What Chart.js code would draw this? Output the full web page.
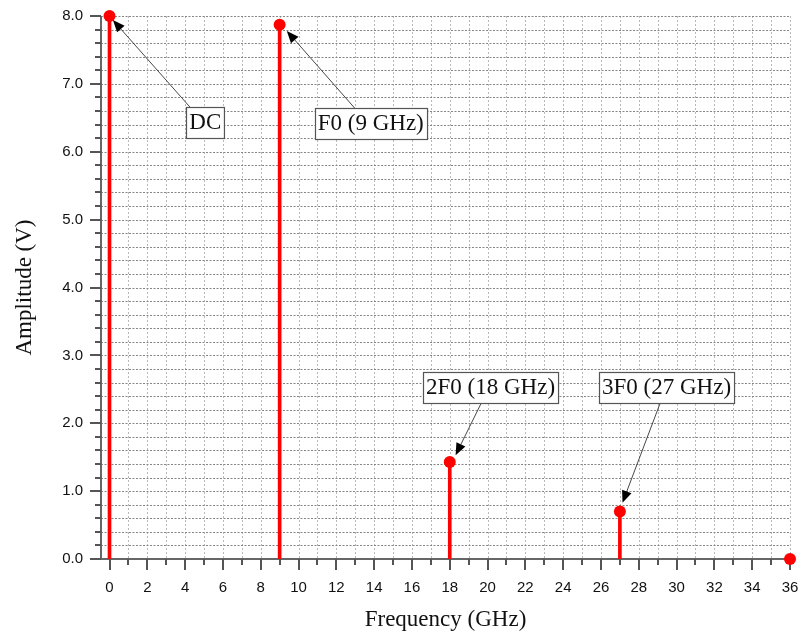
<!DOCTYPE html>
<html>
<head>
<meta charset="utf-8">
<script src="https://cdn.jsdelivr.net/npm/chart.js@4.4.0/dist/chart.umd.min.js"></script>
<style>
  html, body { margin: 0; padding: 0; background: #ffffff; }
  #wrap { width: 800px; height: 637px; }
</style>
</head>
<body>
<div id="wrap"><canvas id="c" width="800" height="637"></canvas></div>
<script>
// ---- data ----
const frequencies = [0, 9, 18, 27, 36];            // GHz
const amplitudes  = [8.0, 7.87, 1.43, 0.70, 0.0];  // V
const annotationTexts = ['DC', 'F0 (9 GHz)', '2F0 (18 GHz)', '3F0 (27 GHz)'];

// ---- annotation layout (data units) ----
const annLayout = [
  { cx: 5.07,  cy: 6.43, tx: 4.25,  ty: 6.66, hx: 0.18,  hy: 7.94 },
  { cx: 13.82, cy: 6.42, tx: 12.98, ty: 6.64, hx: 9.38,  hy: 7.78 },
  { cx: 20.16, cy: 2.53, tx: 19.69, ty: 2.31, hx: 18.31, hy: 1.53 },
  { cx: 29.47, cy: 2.53, tx: 29.15, ty: 2.31, hx: 27.14, hy: 0.83 }
];

const RED = '#ff0000';
const serif = '"Liberation Serif", "DejaVu Serif", serif';
const sans = '"Liberation Sans", Arial, sans-serif';

const isInt = v => Math.abs(v - Math.round(v)) < 1e-6;

const gridPlugin = {
  id: 'gridPlugin',
  beforeDatasetsDraw(chart) {
    const ctx = chart.ctx;
    const xs = chart.scales.x, ys = chart.scales.y;
    const a = chart.chartArea;
    ctx.save();
    ctx.lineWidth = 1;
    // vertical grid (every 1 GHz)
    ctx.strokeStyle = '#b8b8b8';
    ctx.setLineDash([2, 2]);
    xs.ticks.forEach(t => {
      if (t.value <= 0) return;
      const px = Math.round(xs.getPixelForValue(t.value)) + 0.5;
      ctx.beginPath(); ctx.moveTo(px, a.top); ctx.lineTo(px, a.bottom); ctx.stroke();
    });
    // horizontal grid (every 0.2 V)
    ctx.strokeStyle = '#858585';
    ctx.setLineDash([2, 1.5]);
    ys.ticks.forEach(t => {
      if (t.value <= 1e-6) return;
      const py = Math.round(ys.getPixelForValue(t.value)) + 0.5;
      ctx.beginPath(); ctx.moveTo(a.left, py); ctx.lineTo(a.right, py); ctx.stroke();
    });
    ctx.setLineDash([]);
    // axis lines
    ctx.strokeStyle = '#666666';
    ctx.lineWidth = 2;
    ctx.beginPath(); ctx.moveTo(a.left, a.top); ctx.lineTo(a.left, a.bottom + 1); ctx.stroke();
    ctx.beginPath(); ctx.moveTo(a.left - 1, a.bottom); ctx.lineTo(a.right, a.bottom); ctx.stroke();
    // tick marks
    ctx.strokeStyle = '#555555';
    ctx.lineWidth = 2;
    xs.ticks.forEach(t => {
      if (t.value < 0) return;
      const px = Math.round(xs.getPixelForValue(t.value));
      const len = (Math.round(t.value) % 2 === 0) ? 11 : 6;
      ctx.beginPath(); ctx.moveTo(px, a.bottom); ctx.lineTo(px, a.bottom + len); ctx.stroke();
    });
    ys.ticks.forEach(t => {
      const py = Math.round(ys.getPixelForValue(t.value));
      const len = isInt(t.value) ? 11 : 6;
      ctx.beginPath(); ctx.moveTo(a.left, py); ctx.lineTo(a.left - len, py); ctx.stroke();
    });
    ctx.restore();
  }
};

const annotationPlugin = {
  id: 'annotationPlugin',
  afterDatasetsDraw(chart) {
    const ctx = chart.ctx;
    const xs = chart.scales.x, ys = chart.scales.y;
    ctx.save();
    ctx.font = '23px ' + serif;
    annotationTexts.forEach((txt, i) => {
      const L = annLayout[i];
      const cx = xs.getPixelForValue(L.cx), cy = ys.getPixelForValue(L.cy);
      const tx = xs.getPixelForValue(L.tx), ty = ys.getPixelForValue(L.ty);
      const hx = xs.getPixelForValue(L.hx), hy = ys.getPixelForValue(L.hy);
      // arrow line
      const ang = Math.atan2(hy - ty, hx - tx);
      const headLen = 12, headW = 5;
      const bx = hx - headLen * Math.cos(ang), by = hy - headLen * Math.sin(ang);
      ctx.strokeStyle = '#333333';
      ctx.lineWidth = 0.9;
      ctx.beginPath(); ctx.moveTo(tx, ty); ctx.lineTo(bx, by); ctx.stroke();
      ctx.fillStyle = '#000000';
      ctx.beginPath();
      ctx.moveTo(hx, hy);
      ctx.lineTo(bx + headW * Math.sin(ang), by - headW * Math.cos(ang));
      ctx.lineTo(bx - headW * Math.sin(ang), by + headW * Math.cos(ang));
      ctx.closePath(); ctx.fill();
      // box
      const w = ctx.measureText(txt).width + 6;
      const h = 31;
      const x0 = Math.round(cx - w / 2) + 0.5, y0 = Math.round(cy - h / 2) + 0.5;
      ctx.fillStyle = '#ffffff';
      ctx.fillRect(x0, y0, w, h);
      ctx.strokeStyle = '#555555';
      ctx.lineWidth = 1.2;
      ctx.strokeRect(x0, y0, w, h);
      ctx.fillStyle = '#111111';
      ctx.textAlign = 'center';
      ctx.textBaseline = 'alphabetic';
      ctx.fillText(txt, cx, y0 + 21);
    });
    ctx.restore();
  }
};

const points = frequencies.map((f, i) => ({ x: f, y: amplitudes[i] }));

const hiddenGrid = {
  display: true,
  drawOnChartArea: false,
  drawTicks: true,
  color: 'rgba(0,0,0,0)',
  tickColor: 'rgba(0,0,0,0)',
  lineWidth: 0
};

new Chart(document.getElementById('c'), {
  type: 'bar',
  data: {
    datasets: [
      {
        type: 'bar',
        data: points,
        backgroundColor: RED,
        borderWidth: 0,
        barThickness: 3,
        order: 2
      },
      {
        type: 'scatter',
        data: points,
        backgroundColor: RED,
        borderColor: RED,
        pointRadius: 6,
        pointHoverRadius: 6,
        borderWidth: 0,
        clip: false,
        order: 1
      }
    ]
  },
  options: {
    responsive: false,
    animation: false,
    events: [],
    layout: { padding: { top: 16, right: 10, left: 0, bottom: 0 } },
    plugins: { legend: { display: false }, tooltip: { enabled: false } },
    scales: {
      x: {
        type: 'linear',
        min: -0.45,
        max: 36,
        offset: false,
        grid: Object.assign({}, hiddenGrid, { tickLength: 20 }),
        border: { display: false },
        ticks: {
          stepSize: 1,
          includeBounds: false,
          autoSkip: false,
          maxRotation: 0,
          padding: 0,
          color: '#111111',
          font: { family: sans, size: 15 },
          callback: v => (isInt(v) && Math.round(v) % 2 === 0) ? String(Math.round(v)) : ''
        },
        title: {
          display: true,
          text: 'Frequency (GHz)',
          color: '#111111',
          font: { family: serif, size: 23 },
          padding: { top: 0, bottom: 3 }
        },
        afterFit: s => { s.height = 78; }
      },
      y: {
        min: 0,
        max: 8,
        grid: Object.assign({}, hiddenGrid, { tickLength: 18 }),
        border: { display: false },
        ticks: {
          stepSize: 0.2,
          autoSkip: false,
          padding: 0,
          color: '#111111',
          font: { family: sans, size: 15 },
          callback: v => isInt(v) ? Number(v).toFixed(1) : ''
        },
        title: {
          display: true,
          text: 'Amplitude (V)',
          color: '#111111',
          font: { family: serif, size: 23 },
          padding: { top: 11, bottom: 0 }
        },
        afterFit: s => { s.width = 101; }
      }
    }
  },
  plugins: [gridPlugin, annotationPlugin]
});
</script>
</body>
</html>
